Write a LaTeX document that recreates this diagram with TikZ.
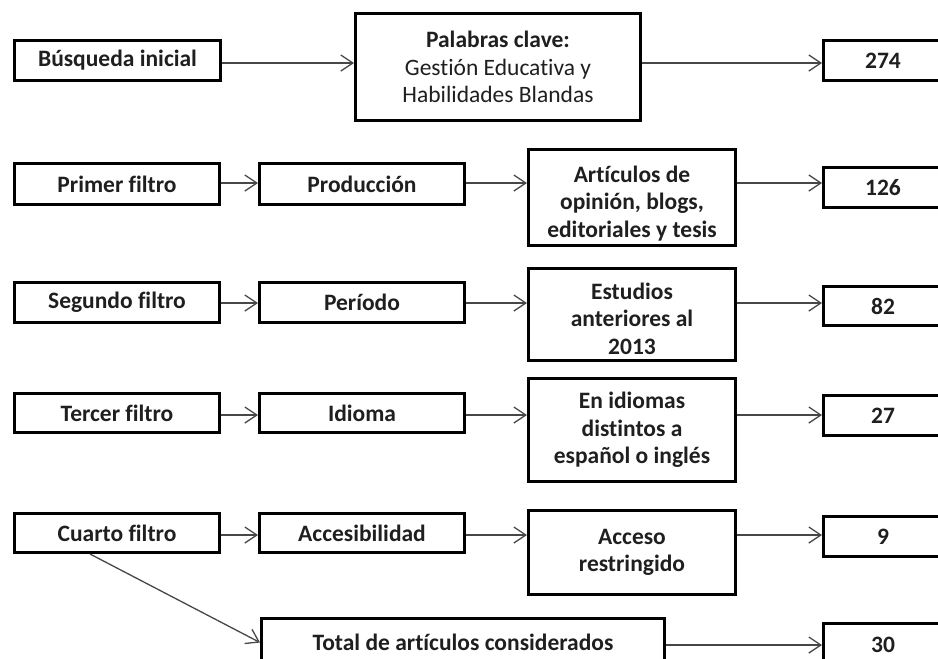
\documentclass[tikz,border=0pt]{standalone}
\usepackage{fontspec}
\setmainfont{Carlito}[Ligatures={NoCommon}]
\usetikzlibrary{arrows.meta,calc}
\begin{document}
\begin{tikzpicture}[x=1pt,y=-1pt,
  box/.style={draw=black, line width=3pt, inner sep=0pt, align=center,
    font=\bfseries\fontsize{23.5}{27.5}\selectfont, text=black!88},
  arr/.style={draw=black!72, line width=1.3pt, -{Straight Barb[length=12pt,width=16pt,line width=1.3pt]}}]
\useasboundingbox (0,0) rectangle (938,659);
\clip (0,0) rectangle (938,659);
\fill[white] (0,0) rectangle (938,659);
% row 1
\node[box, minimum width=206, minimum height=40] (busq) at (117.5,60.5) {Búsqueda inicial};
\node[box, minimum width=285, minimum height=107] (pal) at (498,67) {Palabras clave:\\\mdseries Gestión Educativa y\\\mdseries Habilidades Blandas};
\node[box, minimum width=119, minimum height=40] (n274) at (883,60.5) {274};
% row 2
\node[box, minimum width=205, minimum height=41] (f1) at (117,184) {Primer filtro};
\node[box, minimum width=205, minimum height=41] (prod) at (362,184) {Producción};
\node[box, minimum width=207, minimum height=96] (art) at (632,197.5) {\rule{0pt}{28pt}Artículos de\\opinión, blogs,\\editoriales y tesis};
\node[box, minimum width=119, minimum height=40] (n126) at (883,187.5) {126};
% row 3
\node[box, minimum width=205, minimum height=40] (f2) at (117,302.5) {Segundo filtro};
\node[box, minimum width=205, minimum height=40] (per) at (362,302.5) {Período};
\node[box, minimum width=207, minimum height=92] (est) at (632,314.5) {\rule{0pt}{25pt}Estudios\\anteriores al\\2013};
\node[box, minimum width=119, minimum height=39] (n82) at (883,306) {82};
% row 4
\node[box, minimum width=205, minimum height=39] (f3) at (117,413) {Tercer filtro};
\node[box, minimum width=205, minimum height=39] (idi) at (362,413) {Idioma};
\node[box, minimum width=207, minimum height=103] (idis) at (632,430) {En idiomas\\distintos a\\español o inglés};
\node[box, minimum width=119, minimum height=40] (n27) at (883,415.5) {27};
% row 5
\node[box, minimum width=205, minimum height=39] (f4) at (117,533) {Cuarto filtro};
\node[box, minimum width=205, minimum height=39] (acc) at (362,533) {Accesibilidad};
\node[box, minimum width=207, minimum height=84] (accr) at (632,552.5) {Acceso\\restringido};
\node[box, minimum width=119, minimum height=40] (n9) at (883,536.5) {9};
% total
\node[box, minimum width=403, minimum height=48] (tot) at (463,642.5) {Total de artículos considerados};
\node[box, minimum width=119, minimum height=43] (n30) at (883,645) {30};
% arrows
\draw[arr] (busq.east |- 0,63) -- (pal.west |- 0,63);
\draw[arr] (pal.east |- 0,63) -- (n274.west |- 0,63);
\draw[arr] (f1.east |- 0,183) -- (prod.west |- 0,183);
\draw[arr] (prod.east |- 0,183) -- (art.west |- 0,183);
\draw[arr] (art.east |- 0,183) -- (n126.west |- 0,183);
\draw[arr] (f2.east |- 0,303) -- (per.west |- 0,303);
\draw[arr] (per.east |- 0,303) -- (est.west |- 0,303);
\draw[arr] (est.east |- 0,303) -- (n82.west |- 0,303);
\draw[arr] (f3.east |- 0,415) -- (idi.west |- 0,415);
\draw[arr] (idi.east |- 0,415) -- (idis.west |- 0,415);
\draw[arr] (idis.east |- 0,415) -- (n27.west |- 0,415);
\draw[arr] (f4.east |- 0,535) -- (acc.west |- 0,535);
\draw[arr] (acc.east |- 0,535) -- (accr.west |- 0,535);
\draw[arr] (accr.east |- 0,535) -- (n9.west |- 0,535);
\draw[arr] ($(f4.south)+(-27,0)$) -- (tot.west);
\draw[arr] (tot.east |- 0,645) -- (n30.west |- 0,645);
\end{tikzpicture}
\end{document}
